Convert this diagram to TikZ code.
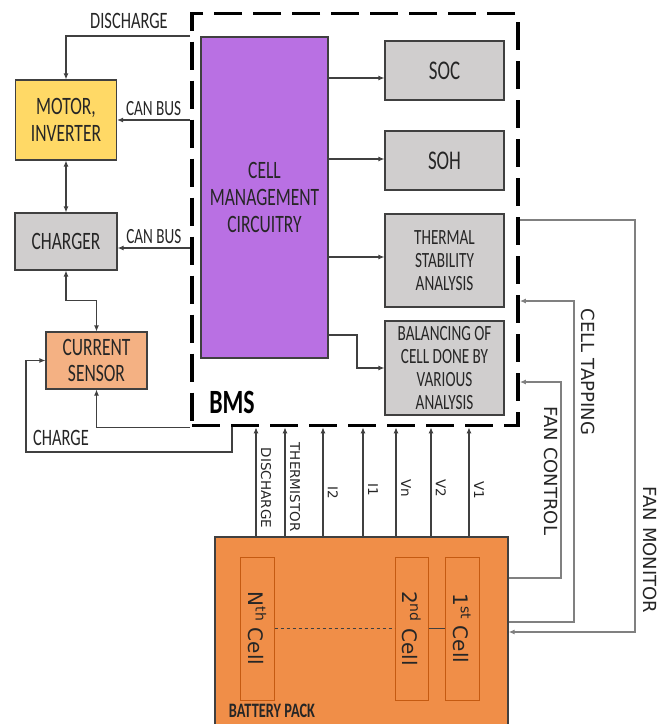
\documentclass[tikz,border=0pt]{standalone}
\usepackage{fontspec}
\setmainfont[FakeStretch=0.7]{Carlito}
\newfontfamily\dejavu{DejaVu Sans}
\definecolor{CellPurple}{RGB}{185,112,227}
\definecolor{MotorYellow}{RGB}{255,217,102}
\definecolor{BoxGray}{RGB}{208,206,206}
\definecolor{SensorSalmon}{RGB}{244,177,131}
\definecolor{PackOrange}{RGB}{240,142,72}
\definecolor{CellEdge}{RGB}{197,90,17}
\definecolor{LineDark}{RGB}{64,64,64}
\definecolor{SideGray}{RGB}{128,128,128}
\definecolor{TextDark}{RGB}{38,38,38}
\usetikzlibrary{arrows.meta,positioning,calc}

\begin{document}
\begin{tikzpicture}[x=1pt,y=-1pt,>={Latex[length=6pt,width=5pt]},
  blk/.style={draw=LineDark,line width=1.1pt,align=center,inner sep=0pt,text=TextDark,font=\fontsize{21.7}{23.2}\selectfont},
  bigtxt/.style={font=\fontsize{25}{26.8}\selectfont},
  cell/.style={draw=CellEdge,line width=1pt,rotate=-90,minimum width=143,minimum height=34,inner sep=0pt,text=TextDark,font=\dejavu\fontsize{20}{22}\selectfont},
  wire/.style={LineDark,line width=1.1pt},
  tap/.style={SideGray,line width=1.4pt},
  lbl/.style={inner sep=1pt,text=TextDark,font=\fontsize{23.5}{25}\selectfont},
  smalllbl/.style={inner sep=1pt,text=TextDark,font=\fontsize{21.7}{24}\selectfont},
  vlbl/.style={inner sep=1pt,text=TextDark,rotate=-90,font=\dejavu\fontsize{13.5}{16}\selectfont},
  vbig/.style={vlbl,font=\dejavu\fontsize{18}{20}\selectfont}]
\useasboundingbox (0,0) rectangle (665,724);
% BMS frame and its blocks
\node[draw,line width=3.8pt,dash pattern=on 28pt off 11pt,minimum width=326,minimum height=412] (bms) at (355,219.5) {};
\node[blk,fill=CellPurple,bigtxt,minimum width=127,minimum height=321] (cmc) at (264.5,197.5) {CELL\\MANAGEMENT\\CIRCUITRY};
\node[blk,fill=BoxGray,minimum width=119,minimum height=59,font=\fontsize{27}{28}\selectfont] (soc) at (444.5,70.5) {SOC};
\node[blk,fill=BoxGray,minimum width=119,minimum height=59,font=\fontsize{27}{28}\selectfont] (soh) at (444.5,160.5) {SOH};
\node[blk,fill=BoxGray,minimum width=119,minimum height=93] (thermal) at (444.5,260.5) {THERMAL\\STABILITY\\ANALYSIS};
\node[blk,fill=BoxGray,minimum width=119,minimum height=94] (balance) at (444.5,368) {BALANCING OF\\CELL DONE BY\\VARIOUS\\ANALYSIS};
\node[font=\bfseries\fontsize{34}{36}\selectfont] (bmslbl) at (232,402) {BMS};
% left side blocks
\node[blk,fill=MotorYellow,bigtxt,minimum width=101,minimum height=80] (motor) at (66,120) {MOTOR,\\INVERTER};
\node[blk,fill=BoxGray,bigtxt,minimum width=102,minimum height=57] (charger) at (66,241.5) {CHARGER};
\node[blk,fill=SensorSalmon,bigtxt,minimum width=101,minimum height=57] (sensor) at (96.5,360.5) {CURRENT\\SENSOR};
% battery pack
\node[draw=LineDark,line width=1.2pt,fill=PackOrange,minimum width=293,minimum height=240] (pack) at (361.5,657) {};
\node[cell] (celln) at (257,628.5) {N\textsuperscript{th} Cell};
\node[cell,minimum height=33] (cellb) at (411.5,628.5) {2\textsuperscript{nd} Cell};
\node[cell] (cella) at (462,628.5) {1\textsuperscript{st} Cell};
\draw[LineDark,line width=1pt,dashed] (celln.north) -- (cellb.south);
\draw[LineDark,line width=1pt] (cellb.north) -- (cella.south);
\node[font=\bfseries\fontsize{20.5}{22}\selectfont,text=TextDark,inner sep=1pt] (packlbl) at (272,711) {BATTERY PACK};

% CMC to the analysis blocks
\draw[wire,->] (cmc.east |- 0,78) -- (soc.west |- 0,78);
\draw[wire,->] (cmc.east |- 0,159) -- (soh.west |- 0,159);
\draw[wire,->] (cmc.east |- 0,257) -- (thermal.west |- 0,257);
\draw[wire,->] (cmc.east |- 0,335) -- (357,335) |- (balance.west);

% BMS to motor, charger and sensor
\draw[wire,->] (bms.west |- 0,36) -| (motor.north);
\node[lbl] (dislbl) at (129,21) {DISCHARGE};
\draw[wire,->] (bms.west |- motor.east) -- (motor.east) node[smalllbl,midway,above=3pt] (can1) {CAN BUS};
\draw[wire,->] (bms.west |- 0,248) -- (charger.east |- 0,248) node[smalllbl,midway,above=3pt] (can2) {CAN BUS};
\draw[wire,<->] (motor) -- (charger);
\draw[wire,<->] (charger.south) -- ++(0,30) -| (sensor.north);
\draw[wire,->] (bms.south west) -| (sensor.south);
\draw[wire,->] (bms.south -| 232,0) |- (26,452) |- (sensor.west);
\node[lbl] (chglbl) at (61,438) {CHARGE};

% pack signals up into the BMS
\foreach \x/\y/\t in {256/488/DISCHARGE,285/487/THERMISTOR,323/493/I2,363/490/I1,396/488/Vn,431/488/V2,469/490/V1}{
  \draw[wire,->] (pack.north -| \x,0) -- (bms.south -| \x,0);
  \node[vlbl] (v\x) at (\x+10,\y) {\t};
}

% fan and tapping lines
\draw[tap,->] (pack.east |- 0,578) -- (561,578) -- (561,382) -- (bms.east |- 0,382);
\node[vbig] (fanctl) at (551,471) {FAN CONTROL};
\draw[tap,->] (pack.east |- 0,622) -| (574,301) -- (bms.east |- 0,301);
\node[vbig] (tapping) at (588,372) {CELL TAPPING};
\draw[tap,->] (bms.east |- 0,220) -| (635,632) -- (pack.east |- 0,632);
\node[vbig] (fanmon) at (650,550) {FAN MONITOR};
\end{tikzpicture}
\end{document}
